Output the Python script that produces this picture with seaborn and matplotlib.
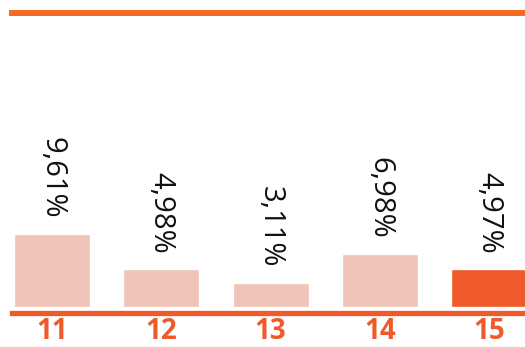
import matplotlib
matplotlib.use("Agg")
import matplotlib.pyplot as plt
import seaborn as sns
import pandas as pd

# Data
categories = ["11", "12", "13", "14", "15"]
values = [9.61, 4.98, 3.11, 6.98, 4.97]
labels = ["9,61%", "4,98%", "3,11%", "6,98%", "4,97%"]
highlight = "15"

LIGHT = "#F0C4B8"
ACCENT = "#F05A2A"
TOP_LINE = "#F26B22"

sns.set_theme(style="white")
plt.rcParams["font.family"] = ["Open Sans", "DejaVu Sans"]

df = pd.DataFrame({"cat": categories, "val": values})
palette = {c: (ACCENT if c == highlight else LIGHT) for c in categories}

fig = plt.figure(figsize=(5.25, 3.47), dpi=100)
W, H = 525, 347
left_px, right_px = 12, 525
top_px, base_px = 13, 306.7
ax = fig.add_axes([left_px / W, (H - base_px) / H,
                   (right_px - left_px) / W, (base_px - top_px) / H])

sns.barplot(data=df, x="cat", y="val", hue="cat", palette=palette,
            width=0.695, legend=False, saturation=1, ax=ax)

ax.set_xlim(-0.366, 4.326)
ax.set_ylim(0, (base_px - top_px) / 7.57)

for i, (v, lab) in enumerate(zip(values, labels)):
    ax.annotate(lab, xy=(i, v), xytext=(0, 11), textcoords="offset points",
                rotation=-90, ha="center", va="bottom",
                fontsize=21, color="#111111")

for s in ["left", "right"]:
    ax.spines[s].set_visible(False)
ax.spines["top"].set_color(TOP_LINE)
ax.spines["top"].set_linewidth(4.3)
ax.spines["bottom"].set_color(ACCENT)
ax.spines["bottom"].set_linewidth(3.8)
ax.spines["bottom"].set_position(("outward", 4.5))

ax.set_yticks([])
ax.set_xlabel("")
ax.set_ylabel("")
ax.tick_params(axis="x", length=0, pad=3, labelsize=20, labelcolor=ACCENT)
for t in ax.get_xticklabels():
    t.set_fontweight("bold")

fig.savefig("out.png", dpi=100)
